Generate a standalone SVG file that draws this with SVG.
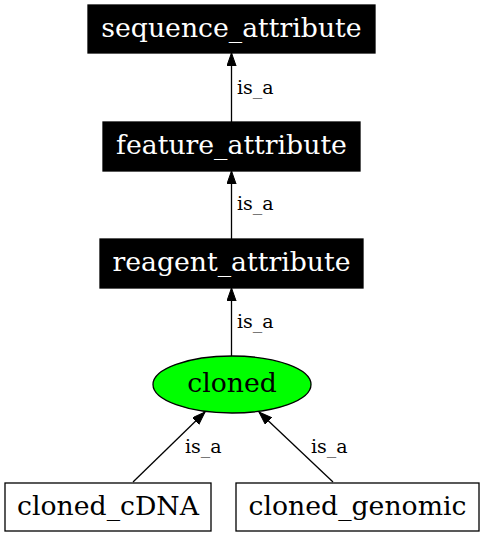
<svg xmlns="http://www.w3.org/2000/svg" width="484" height="536" viewBox="0 0 484 536">
<defs>
<marker id="arr" markerWidth="14" markerHeight="10" refX="13.3" refY="4.7" orient="auto" markerUnits="userSpaceOnUse">
<path d="M0,0 L13.3,4.7 L0,9.4 Z" fill="#000" stroke="#000" stroke-width="1"/>
</marker>
<style>
.nt{font-family:"DejaVu Serif",serif;font-size:26.7px;text-anchor:middle}
.lt{font-family:"DejaVu Serif",serif;font-size:19px}
.dark rect{fill:#000;stroke:#000;stroke-width:1.3}
.dark text{fill:#fff}
.light rect{fill:#fff;stroke:#000;stroke-width:1.3}
.edge line{stroke:#000;stroke-width:1.3;marker-end:url(#arr)}
</style>
</defs>
<rect width="484" height="536" fill="#fff"/>
<g id="sequence_attribute" class="dark">
<rect x="88" y="5" width="287" height="48"/>
<text class="nt" x="231.5" y="37">sequence_attribute</text>
</g>
<g id="feature_attribute" class="dark">
<rect x="103" y="122" width="257" height="49"/>
<text class="nt" x="231.5" y="154">feature_attribute</text>
</g>
<g id="reagent_attribute" class="dark">
<rect x="100" y="239" width="263" height="49"/>
<text class="nt" x="231.5" y="271">reagent_attribute</text>
</g>
<g id="cloned">
<ellipse cx="232" cy="384.5" rx="79" ry="28.5" fill="#00ff00" stroke="#000" stroke-width="1.3"/>
<text class="nt" x="232" y="392">cloned</text>
</g>
<g id="cloned_cDNA" class="light">
<rect x="5" y="483" width="206" height="48"/>
<text class="nt" x="108" y="515">cloned_cDNA</text>
</g>
<g id="cloned_genomic" class="light">
<rect x="236" y="483" width="243" height="48"/>
<text class="nt" x="357.5" y="515">cloned_genomic</text>
</g>
<g id="connectors" class="edge">
<line x1="231.5" y1="122" x2="231.5" y2="53"/>
<line x1="231.5" y1="239" x2="231.5" y2="171"/>
<line x1="231.5" y1="356" x2="231.5" y2="288"/>
<line x1="133" y1="482" x2="205" y2="412"/>
<line x1="333" y1="482" x2="259" y2="412"/>
<text class="lt" x="237" y="94">is_a</text>
<text class="lt" x="237" y="210">is_a</text>
<text class="lt" x="237" y="328">is_a</text>
<text class="lt" x="185" y="453">is_a</text>
<text class="lt" x="311" y="453">is_a</text>
</g>
</svg>
